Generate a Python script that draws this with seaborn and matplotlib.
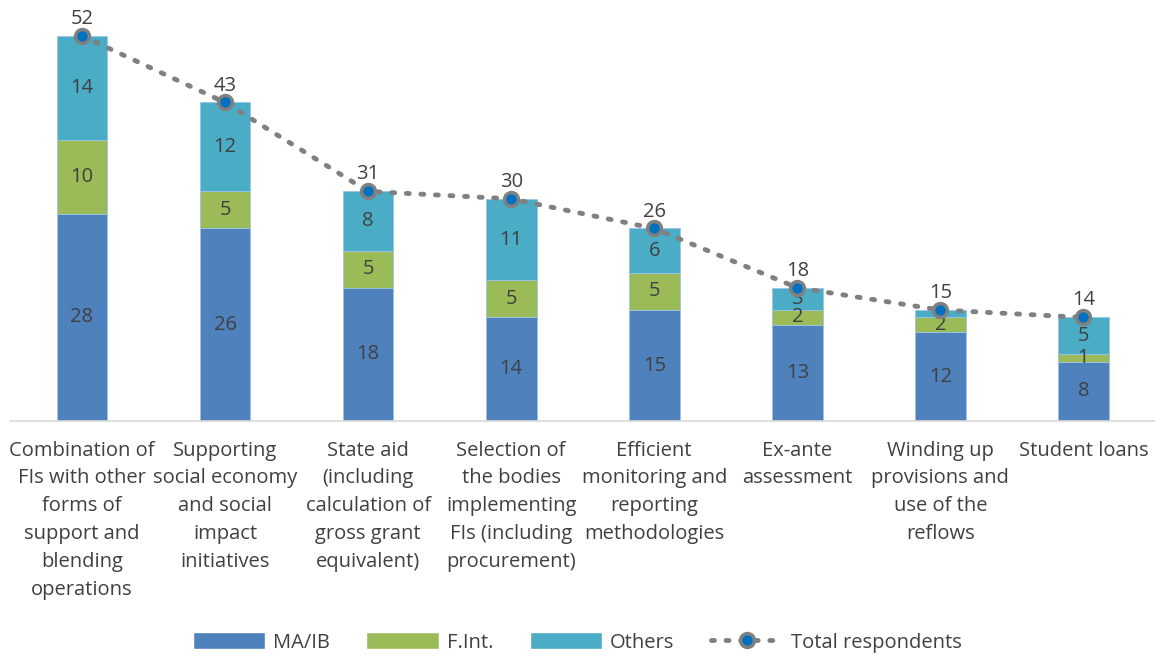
import numpy as np
import seaborn as sns
import matplotlib.pyplot as plt
from matplotlib.lines import Line2D
from matplotlib.patches import Patch

# data
categories = ["Combination of\nFIs with other\nforms of\nsupport and\nblending\noperations",
              "Supporting\nsocial economy\nand social\nimpact\ninitiatives",
              "State aid\n(including\ncalculation of\ngross grant\nequivalent)",
              "Selection of\nthe bodies\nimplementing\nFIs (including\nprocurement)",
              "Efficient\nmonitoring and\nreporting\nmethodologies",
              "Ex-ante\nassessment",
              "Winding up\nprovisions and\nuse of the\nreflows",
              "Student loans"]
ma_ib = [28, 26, 18, 14, 15, 13, 12, 8]
f_int = [10, 5, 5, 5, 5, 2, 2, 1]
others = [14, 12, 8, 11, 6, 3, 1, 5]
totals = [52, 43, 31, 30, 26, 18, 15, 14]

sns.set_style("white")
plt.rcParams['font.family'] = ['Open Sans', 'DejaVu Sans']
txt = '#404040'

fig = plt.figure(figsize=(11.55, 6.57), dpi=100)
ax = fig.add_axes([0.009, 0.359, 0.991, 0.626])

x = np.arange(len(categories))
bottom2 = np.array(ma_ib)
bottom3 = bottom2 + np.array(f_int)

sns.barplot(x=x, y=ma_ib, color='#4F81BD', width=0.355, saturation=1, ax=ax,
            edgecolor='#9DC3E6', linewidth=0.6)
sns.barplot(x=x, y=f_int, bottom=bottom2, color='#9BBB59', width=0.355, saturation=1, ax=ax,
            edgecolor='#9DC3E6', linewidth=0.6)
sns.barplot(x=x, y=others, bottom=bottom3, color='#4BACC6', width=0.355, saturation=1, ax=ax,
            edgecolor='#9DC3E6', linewidth=0.6)

for c in ax.containers:
    ax.bar_label(c, label_type='center', fontsize=14.5, color=txt)

dots = (0, (0.6, 2.4))
ax.plot(x, totals, linestyle=dots, dash_capstyle='round', color='#808080', lw=3.5,
        marker='o', markersize=10, markerfacecolor='#0070C0', markeredgecolor='#808080',
        markeredgewidth=2.5, zorder=5)
for xi, t in zip(x, totals):
    ax.annotate(str(t), (xi, t), xytext=(0, 5), textcoords='offset points',
                ha='center', va='bottom', fontsize=14.5, color=txt)

ax.set_xlim(-0.5, len(categories) - 0.5)
ax.set_ylim(0, 55.5)
ax.set_yticks([])
ax.set_xticks(x)
ax.set_xticklabels(categories, fontsize=14.5, color=txt, linespacing=1.52)
ax.tick_params(axis='x', length=0, pad=14)
for s in ['top', 'right', 'left']:
    ax.spines[s].set_visible(False)
ax.spines['bottom'].set_color('#D9D9D9')
ax.spines['bottom'].set_linewidth(1.2)

handles = [Patch(facecolor='#4F81BD'), Patch(facecolor='#9BBB59'), Patch(facecolor='#4BACC6'),
           Line2D([0], [0], linestyle=dots, dash_capstyle='round', color='#808080', lw=3.5,
                  marker='o', markersize=10, markerfacecolor='#0070C0',
                  markeredgecolor='#808080', markeredgewidth=2.5)]
fig.legend(handles, ['MA/IB', 'F.Int.', 'Others', 'Total respondents'],
           loc='center', bbox_to_anchor=(0.5, 0.022), ncol=4, frameon=False,
           fontsize=14.5, labelcolor=txt, handlelength=3.6, handleheight=0.9,
           columnspacing=1.8, handletextpad=0.4)

fig.savefig('out.png', dpi=100)
